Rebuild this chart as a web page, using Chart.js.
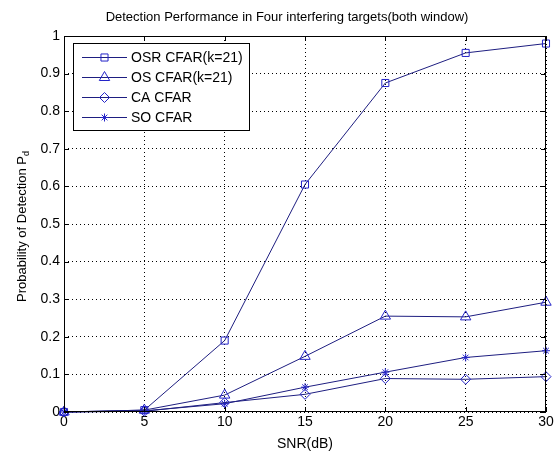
<!DOCTYPE html>
<html>
<head>
<meta charset="utf-8">
<script src="https://cdn.jsdelivr.net/npm/chart.js@4/dist/chart.umd.min.js"></script>
<style>
html, body { margin: 0; background: #fff; }
#wrap { width: 556px; height: 455px; }
</style>
</head>
<body>
<div id="wrap"><canvas id="chart"></canvas></div>
<script>
// data
const snr = [0, 5, 10, 15, 20, 25, 30];
const osrCfar = [0, 0.005, 0.19, 0.605, 0.875, 0.955, 0.98];
const osCfar = [0, 0.005, 0.045, 0.148, 0.255, 0.253, 0.292];
const caCfar = [0, 0.002, 0.025, 0.047, 0.089, 0.087, 0.094];
const soCfar = [0, 0.003, 0.022, 0.066, 0.106, 0.145, 0.163];
const yTicks = [0, 0.1, 0.2, 0.3, 0.4, 0.5, 0.6, 0.7, 0.8, 0.9, 1];
const yLabels = ['0', '0.1', '0.2', '0.3', '0.4', '0.5', '0.6', '0.7', '0.8', '0.9', '1'];

const lineCol = '#1e1e80';
const markCol = '#2424c8';
const font = "'Liberation Sans', Arial, sans-serif";

function pts(ys) {
    return snr.map((x, i) => ({ x: x, y: ys[i] }));
}

function series(label, ys, style, r) {
    return {
        label: label,
        data: pts(ys),
        borderColor: lineCol,
        borderWidth: 1,
        pointStyle: style,
        pointRadius: r,
        pointBorderColor: markCol,
        pointBackgroundColor: 'rgba(0,0,0,0)',
        pointBorderWidth: 1,
        clip: false,
        tension: 0
    };
}

// box, inward ticks, title, y label with subscript, legend
const frame = {
    id: 'frame',
    afterDraw(chart) {
        const ctx = chart.ctx;
        const a = chart.chartArea;
        const xs = chart.scales.x, ys = chart.scales.y;
        ctx.save();
        ctx.strokeStyle = '#000';
        ctx.lineWidth = 1;
        ctx.strokeRect(a.left + 0.5, a.top + 0.5, a.right - a.left - 1, a.bottom - a.top - 1);
        ctx.beginPath();
        snr.forEach(v => {
            const px = Math.round(xs.getPixelForValue(v)) + 0.5;
            ctx.moveTo(px, a.bottom); ctx.lineTo(px, a.bottom - 5);
            ctx.moveTo(px, a.top); ctx.lineTo(px, a.top + 5);
        });
        yTicks.forEach(v => {
            const py = Math.round(ys.getPixelForValue(v)) + 0.5;
            ctx.moveTo(a.left, py); ctx.lineTo(a.left + 5, py);
            ctx.moveTo(a.right, py); ctx.lineTo(a.right - 5, py);
        });
        ctx.stroke();

        // title
        ctx.fillStyle = '#000';
        ctx.font = '13px ' + font;
        ctx.textAlign = 'center';
        ctx.textBaseline = 'middle';
        ctx.fillText('Detection Performance in Four interfering targets(both window)', 287, 17);

        // y label
        ctx.save();
        ctx.translate(22, (a.top + a.bottom) / 2 + 2);
        ctx.rotate(-Math.PI / 2);
        ctx.font = '13px ' + font;
        const main = 'Probability of Detection P';
        const w = ctx.measureText(main).width;
        ctx.textAlign = 'left';
        ctx.fillText(main, -w / 2 - 3, 0);
        ctx.font = '9px ' + font;
        ctx.fillText('d', w / 2 - 3, 5);
        ctx.restore();

        // legend
        const lx = 73, ly = 43, lw = 176, lh = 87;
        ctx.fillStyle = '#fff';
        ctx.fillRect(lx, ly, lw, lh);
        ctx.strokeStyle = '#000';
        ctx.strokeRect(lx + 0.5, ly + 0.5, lw, lh);
        ctx.font = '14px ' + font;
        ctx.textAlign = 'left';
        chart.data.datasets.forEach((ds, i) => {
            const y = ly + 14 + i * 20;
            ctx.strokeStyle = ds.borderColor;
            ctx.lineWidth = 1;
            ctx.beginPath();
            ctx.moveTo(82, y + 0.5); ctx.lineTo(127, y + 0.5);
            ctx.stroke();
            ctx.strokeStyle = ds.pointBorderColor;
            ctx.fillStyle = 'rgba(0,0,0,0)';
            Chart.helpers.drawPoint(ctx, { pointStyle: ds.pointStyle, radius: ds.pointRadius, borderWidth: 1, rotation: 0 }, 104.5, y + 0.5);
            ctx.fillStyle = '#000';
            ctx.fillText(ds.label, 131, y + 1);
        });
        ctx.restore();
    }
};

new Chart(document.getElementById('chart'), {
    type: 'line',
    data: {
        datasets: [
            series('OSR CFAR(k=21)', osrCfar, 'rect', 5),
            series('OS CFAR(k=21)', osCfar, 'triangle', 6),
            series('CA CFAR', caCfar, 'rectRot', 5),
            series('SO CFAR', soCfar, 'star', 4)
        ]
    },
    options: {
        responsive: true,
        maintainAspectRatio: false,
        animation: false,
        layout: { padding: { top: 36, right: 10, left: 0, bottom: 0 } },
        plugins: {
            legend: { display: false },
            tooltip: { enabled: false }
        },
        scales: {
            x: {
                type: 'linear',
                min: 0, max: 30,
                afterFit(s) { s.height = 43; },
                ticks: { stepSize: 5, color: '#000', font: { size: 14, family: font }, padding: 2 },
                grid: { color: '#000', drawTicks: false },
                border: { dash: [1, 3], display: false },
                title: { display: true, text: 'SNR(dB)', color: '#000', font: { size: 14, family: font }, padding: { top: 0, bottom: 2 } }
            },
            y: {
                min: 0, max: 1,
                afterFit(s) { s.width = 64; },
                afterBuildTicks(s) { s.ticks = yTicks.map(v => ({ value: v })); },
                ticks: {
                    color: '#000', font: { size: 14, family: font }, padding: 4,
                    callback: (v, i) => yLabels[i]
                },
                grid: { color: '#000', drawTicks: false },
                border: { dash: [1, 3], display: false }
            }
        }
    },
    plugins: [frame]
});
</script>
</body>
</html>
